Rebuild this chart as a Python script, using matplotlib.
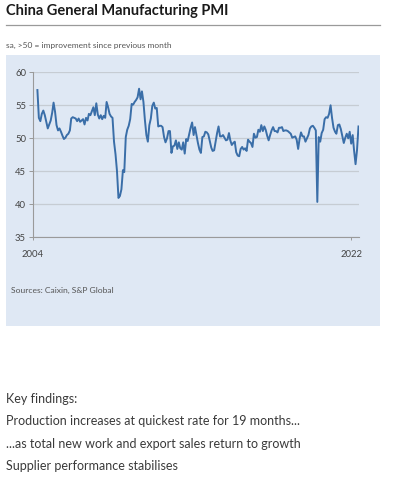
import matplotlib
matplotlib.use("Agg")
import matplotlib.pyplot as plt
from matplotlib.patches import Rectangle
from matplotlib.lines import Line2D
import pandas as pd

plt.rcParams['font.family'] = ['Lato', 'DejaVu Sans']

start_month = "2004-04"
pmi_2004 = [57.2, 53.0, 52.5, 53.6, 54.1, 53.4, 52.4, 51.4, 52.0]
pmi_2005 = [52.6, 53.8, 55.3, 53.9, 51.9, 51.1, 51.4, 50.9, 50.3, 49.8, 50.0, 50.4]
pmi_2006 = [50.6, 51.1, 52.9, 53.1, 53.0, 52.9, 52.5, 52.9, 52.4, 52.6, 52.8, 52.0]
pmi_2007 = [53.0, 52.6, 53.6, 53.4, 54.0, 54.6, 53.4, 55.2, 53.5, 52.9, 53.4, 52.8]
pmi_2008 = [53.3, 53.0, 55.4, 54.6, 53.6, 53.2, 53.0, 49.4, 47.5, 45.0, 40.9, 41.2]
pmi_2009 = [42.2, 45.1, 44.8, 50.1, 51.2, 51.8, 52.8, 55.1, 55.0, 55.4, 55.7, 56.1]
pmi_2010 = [57.4, 55.8, 57.0, 55.4, 52.7, 50.4, 49.4, 51.9, 52.9, 54.8, 55.3, 54.4]
pmi_2011 = [54.5, 51.7, 51.8, 51.8, 51.6, 50.1, 49.3, 49.9, 51.0, 51.0, 47.7, 48.7]
pmi_2012 = [48.8, 49.6, 48.3, 49.3, 48.4, 48.2, 49.3, 47.6, 49.8, 49.5, 50.5, 51.5]
pmi_2013 = [52.3, 50.4, 51.6, 50.4, 49.2, 48.2, 47.7, 50.1, 50.2, 50.9, 50.8, 50.5]
pmi_2014 = [49.5, 48.5, 48.0, 48.1, 49.4, 50.7, 51.7, 50.2, 50.2, 50.4, 50.0, 49.6]
pmi_2015 = [49.7, 50.7, 49.6, 48.9, 49.2, 49.4, 47.8, 47.3, 47.2, 48.3, 48.6, 48.2]
pmi_2016 = [48.4, 48.0, 49.7, 49.4, 49.2, 48.6, 50.6, 50.0, 50.1, 51.2, 50.9, 51.9]
pmi_2017 = [51.0, 51.7, 51.2, 50.3, 49.6, 50.4, 51.1, 51.6, 51.0, 51.0, 50.8, 51.5]
pmi_2018 = [51.5, 51.6, 51.0, 51.1, 51.1, 51.0, 50.8, 50.6, 50.0, 50.1, 50.2, 49.7]
pmi_2019 = [48.3, 49.9, 50.8, 50.2, 50.2, 49.4, 49.9, 50.4, 51.4, 51.7, 51.8, 51.5]
pmi_2020 = [51.1, 40.3, 50.1, 49.4, 50.7, 51.2, 52.8, 53.1, 53.0, 53.6, 54.9, 53.0]
pmi_2021 = [51.5, 50.9, 50.6, 51.9, 52.0, 51.3, 50.3, 49.2, 50.0, 50.6, 49.9, 50.9]
pmi_2022 = [49.1, 50.4, 48.1, 46.0, 48.1, 51.7]

y_ticks = [35, 40, 45, 50, 55, 60]
x_tick_labels = ["2004", "2022"]

title = "China General Manufacturing PMI"
subtitle = "sa, >50 = improvement since previous month"
source = "Sources: Caixin, S&P Global"
findings = ["Key findings:",
            "Production increases at quickest rate for 19 months...",
            "...as total new work and export sales return to growth",
            "Supplier performance stabilises"]

pmi = (pmi_2004 + pmi_2005 + pmi_2006 + pmi_2007 + pmi_2008 + pmi_2009 +
       pmi_2010 + pmi_2011 + pmi_2012 + pmi_2013 + pmi_2014 + pmi_2015 +
       pmi_2016 + pmi_2017 + pmi_2018 + pmi_2019 + pmi_2020 + pmi_2021 + pmi_2022)
dates = pd.date_range(start=start_month, periods=len(pmi), freq="MS")

W, H = 393, 489
fig = plt.figure(figsize=(W / 100, H / 100), dpi=100)
fig.patch.set_facecolor("white")

def fx(px):
    return px / W

def fy(py):
    return 1 - py / H

# panel background as a bottom axes
bg = fig.add_axes([fx(6), fy(326.5), fx(380) - fx(6), fy(56) - fy(326.5)], zorder=-5)
bg.set_facecolor("#dfe8f4")
bg.set_xticks([])
bg.set_yticks([])
for s in bg.spines.values():
    s.set_visible(False)

# rule under title
fig.lines.append(Line2D([fx(6), fx(380)], [fy(26), fy(26)], transform=fig.transFigure,
                        color="#9a9a9a", linewidth=0.9))

fig.text(fx(6), fy(15), title, fontsize=10.5, fontweight="bold", color="#1a1a1a",
         ha="left", va="baseline")
fig.text(fx(6), fy(48), subtitle, fontsize=6.0, color="#555555", ha="left", va="baseline")
fig.text(fx(11), fy(293), source, fontsize=6.1, color="#555555", ha="left", va="baseline")

for k, line in enumerate(findings):
    fig.text(fx(6), fy(403 + 22.3 * k), line, fontsize=9, color="#3a3a3a",
             ha="left", va="baseline")

ax = fig.add_axes([fx(33), fy(238), fx(358.5) - fx(33), fy(72.5) - fy(238)], zorder=2)
ax.set_facecolor("none")
ax.plot(dates, pmi, color="#3a6ea8", linewidth=1.4, solid_joinstyle="round", zorder=3)

ax.set_ylim(35, 60)
ax.set_xlim(pd.Timestamp("2004-01-01"), dates[-1])
ax.set_yticks(y_ticks)
ax.set_xticks([pd.Timestamp(t + "-01-01") for t in x_tick_labels])
ax.set_xticklabels(x_tick_labels)
ax.tick_params(axis="y", length=3, width=0.7, color="#999999", labelsize=6.8,
               labelcolor="#444444", pad=2)
ax.tick_params(axis="x", length=2.5, width=0.7, color="#999999", labelsize=6.8,
               labelcolor="#444444", pad=6)
ax.grid(axis="y", color="#c6ccd3", linewidth=0.9, zorder=1)
for s in ["top", "right"]:
    ax.spines[s].set_visible(False)
for s in ["left", "bottom"]:
    ax.spines[s].set_color("#9a9a9a")
    ax.spines[s].set_linewidth(0.8)

fig.savefig("out.png", dpi=100)
